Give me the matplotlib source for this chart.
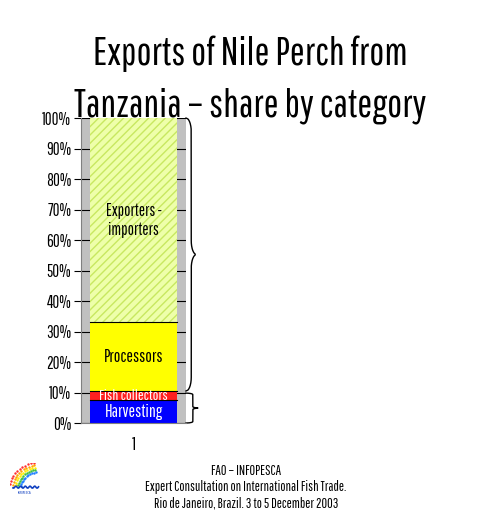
import numpy as np
import matplotlib
matplotlib.use('Agg')
import matplotlib.pyplot as plt
import matplotlib.transforms as mtransforms

plt.rcParams['font.family'] = ['Pathway Gothic One', 'Roboto Condensed', 'DejaVu Sans']
plt.rcParams['hatch.linewidth'] = 1.0

categories = ['Harvesting', 'Fish collectors', 'Processors', 'Exporters -\nimporters']
shares = [7.5, 3.0, 22.5, 67.0]
colors = ['#0000ff', '#ff2020', '#ffff00', '#eeffaa']
text_colors = ['white', 'white', 'black', 'black']
yticks = np.arange(0, 101, 10)
ytick_labels = ['{}%'.format(v) for v in yticks]

fig = plt.figure(figsize=(5, 5.2), dpi=100)
ax = fig.add_axes([0.162, 0.1865, 0.21, 0.5865])
ax.set_facecolor('#c0c0c0')

bottom = 0
for i in range(len(categories)):
    hatch = '////' if i == 3 else None
    ax.bar(1, shares[i], bottom=bottom, width=0.82, color=colors[i],
           edgecolor='#c8e860' if i == 3 else colors[i], hatch=hatch, linewidth=0, zorder=2)
    bottom += shares[i]

# thin black separators between segments
cum = np.cumsum(shares)
for c in cum[:-1]:
    ax.plot([0.59, 1.41], [c, c], color='black', lw=0.8, zorder=3)

bottom = 0
fs = [12.5, 11, 12.5, 12]
for i in range(len(categories)):
    ax.text(1, bottom + shares[i] / 2, categories[i], ha='center', va='center',
            fontsize=fs[i], color=text_colors[i], zorder=4, linespacing=1.2)
    bottom += shares[i]

ax.set_xlim(0.5, 1.5)
ax.set_ylim(0, 100)
ax.set_yticks(yticks)
ax.set_yticklabels(ytick_labels, fontsize=12)
ax.set_xticks([1])
ax.set_xticklabels(['1'], fontsize=13)
ax.yaxis.grid(True, color='black', lw=0.8, zorder=1)
ax.set_axisbelow(True)
ax.tick_params(axis='y', length=5, direction='out', pad=2)
ax.tick_params(axis='x', length=0, pad=10)
for s in ['top', 'right']:
    ax.spines[s].set_visible(False)
ax.spines['left'].set_color('#808080')
ax.spines['bottom'].set_color('#808080')


def brace(ax, x0, y0, y1, w):
    # curly brace opening to the left, x in axes fraction, y in data
    trans = mtransforms.blended_transform_factory(ax.transAxes, ax.transData)
    t = np.linspace(0, 1, 300)
    ym = (y0 + y1) / 2
    h = y1 - y0
    ys = y0 + t * h
    r = 0.05 * h
    xs = []
    for y in ys:
        d0 = y - y0
        d1 = y1 - y
        dm = abs(y - ym)
        x = w * 0.5
        if d0 < r:
            x = w * 0.5 * np.sqrt(1 - ((r - d0) / r) ** 2)
        elif d1 < r:
            x = w * 0.5 * np.sqrt(1 - ((r - d1) / r) ** 2)
        if dm < r:
            x = w * 0.5 + w * 0.5 * (1 - np.sqrt(1 - ((r - dm) / r) ** 2))
        xs.append(x0 + x)
    ax.plot(xs, ys, color='black', lw=1.0, transform=trans, clip_on=False)


brace(ax, 1.0, 10.5, 100, 0.1)
brace(ax, 1.0, 0, 9.8, 0.13)

# small logo stand-in: rainbow arcs over a blue wave
lax = fig.add_axes([0.02, 0.045, 0.06, 0.065])
lax.set_xlim(0, 1)
lax.set_ylim(0, 1)
lax.axis('off')
arc_colors = ['#ff3030', '#ffa500', '#ffee00', '#40c040', '#2080ff']
for k in range(len(arc_colors)):
    a = np.linspace(np.pi * 0.55, np.pi * 0.95, 12)
    rr = 0.95 - k * 0.09
    lax.scatter(0.95 + rr * np.cos(a), 0.25 + rr * np.sin(a) * 0.8, s=3, color=arc_colors[k], lw=0)
wx = np.linspace(0.1, 0.95, 40)
lax.plot(wx, 0.28 + 0.03 * np.sin(wx * 40), color='#1040c0', lw=1.2)
lax.text(0.5, 0.08, 'INFOPESCA', fontsize=3, ha='center', color='#1040c0')

fig.text(0.5, 1 - 65 / 520, 'Exports of Nile Perch from', ha='center', va='baseline', fontsize=28.5)
fig.text(0.5, 1 - 117 / 520, 'Tanzania \u2013 share by category', ha='center', va='baseline', fontsize=28.5)

footer = ['FAO \u2013 INFOPESCA',
          'Expert Consultation on International Fish Trade.',
          'Rio de Janeiro, Brazil. 3 to 5 December 2003']
for k in range(len(footer)):
    fig.text(0.492, 1 - (475 + 16 * k) / 520, footer[k], ha='center', va='baseline', fontsize=10)

fig.savefig('out.png', dpi=100)
